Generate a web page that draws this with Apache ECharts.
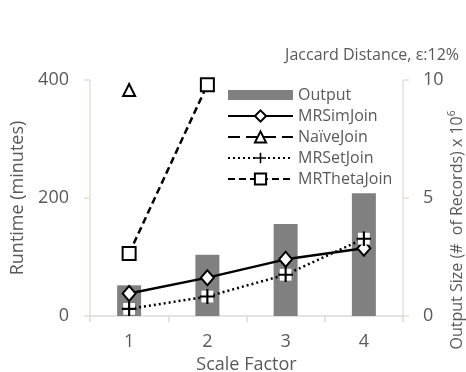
<!DOCTYPE html>
<html>
<head>
<meta charset="utf-8">
<script src="https://cdn.jsdelivr.net/npm/echarts@6/dist/echarts.min.js"></script>
<style>
  html, body { margin: 0; padding: 0; background: #fff; }
  #chart { width: 466px; height: 372px; }
</style>
</head>
<body>
<div id="chart"></div>
<script>
// Scale factors on the x axis
const scaleFactors = ['1', '2', '3', '4'];
// Output size (millions of records), right axis
const outputSize = [1.3, 2.6, 3.9, 5.2];
// Runtimes in minutes, left axis
const mrSimJoin = [38, 65, 96, 115];
const naiveJoin = [383, null, null, null];
const mrSetJoin = [12, 33, 70, 131];
const mrThetaJoin = [106, 392, null, null];

const runtimeTicks = { min: 0, max: 400, interval: 200 };
const outputTicks = { min: 0, max: 10, interval: 5 };

const FONT = 'Open Sans';
const TEXT = '#595959';
const AXIS_Y = '#e4e1d2';
const AXIS_X = '#d9d9d9';

const plusSvg = '<svg xmlns="http://www.w3.org/2000/svg" width="14" height="14" viewBox="0 0 14 14">' +
  '<rect x="1.5" y="1.5" width="11" height="11" fill="#ffffff"/>' +
  '<path d="M7 0V14M0 7H14" stroke="#000000" stroke-width="2"/></svg>';
const plusSymbol = 'image://data:image/svg+xml;utf8,' + encodeURIComponent(plusSvg);

const chart = echarts.init(document.getElementById('chart'), null, { renderer: 'canvas' });

const lineBase = {
  type: 'line',
  yAxisIndex: 0,
  symbolSize: 12,
  z: 3,
  itemStyle: { color: '#ffffff', borderColor: '#000000', borderWidth: 2 },
  emphasis: { disabled: true },
  animation: false
};

chart.setOption({
  animation: false,
  backgroundColor: '#ffffff',
  textStyle: { fontFamily: FONT },
  title: {
    text: 'Jaccard Distance, ε:12%',
    right: 2,
    top: 42,
    textStyle: { fontFamily: FONT, fontSize: 16, fontWeight: 'normal', color: TEXT }
  },
  grid: { left: 90, right: 63, top: 80, bottom: 56, containLabel: false, outerBoundsMode: 'none' },
  legend: {
    left: 227,
    top: 87,
    padding: 0,
    orient: 'vertical',
    itemWidth: 65,
    itemHeight: 14,
    itemGap: 5,
    textStyle: { fontFamily: FONT, fontSize: 16, color: TEXT },
    data: [
      { name: 'Output', icon: 'path://M0,0L0.01,0M0,2L65,2L65,12L0,12ZM0,14L0.01,14' },
      'MRSimJoin', 'NaïveJoin', 'MRSetJoin', 'MRThetaJoin'
    ]
  },
  // Right-hand axis title, reading bottom to top, with the 10^6 exponent as a superscript
  graphic: [
    {
      type: 'text',
      x: 456,
      y: 230,
      rotation: Math.PI / 2,
      style: {
        text: '{b|Output Size (#  of Records) x 10}{s|6}',
        align: 'center',
        verticalAlign: 'middle',
        rich: {
          b: { fontFamily: FONT, fontSize: 16, fill: TEXT, lineHeight: 18, verticalAlign: 'bottom' },
          s: { fontFamily: FONT, fontSize: 10, fill: TEXT, lineHeight: 18, verticalAlign: 'top' }
        }
      }
    }
  ],
  xAxis: {
    type: 'category',
    data: scaleFactors,
    boundaryGap: true,
    name: 'Scale Factor',
    nameLocation: 'middle',
    nameGap: 36,
    nameTextStyle: { fontFamily: FONT, fontSize: 18, color: TEXT },
    axisLine: { lineStyle: { color: AXIS_X, width: 1.5 } },
    axisTick: { show: true, length: 6, alignWithLabel: false, lineStyle: { color: AXIS_X, width: 1.5 } },
    axisLabel: { fontFamily: FONT, fontSize: 18, color: TEXT, margin: 17 },
    splitLine: { show: false }
  },
  yAxis: [
    {
      type: 'value',
      min: runtimeTicks.min, max: runtimeTicks.max, interval: runtimeTicks.interval,
      name: 'Runtime (minutes)',
      nameLocation: 'middle',
      nameGap: 60,
      nameTextStyle: { fontFamily: FONT, fontSize: 18, color: TEXT },
      axisLine: { show: true, lineStyle: { color: AXIS_Y, width: 1.5 } },
      axisTick: { show: true, length: 6, lineStyle: { color: AXIS_Y, width: 1.5 } },
      axisLabel: { fontFamily: FONT, fontSize: 18, color: TEXT, margin: 21 },
      splitLine: { show: false }
    },
    {
      type: 'value',
      position: 'right',
      min: outputTicks.min, max: outputTicks.max, interval: outputTicks.interval,
      axisLine: { show: true, lineStyle: { color: AXIS_Y, width: 1.5 } },
      axisTick: { show: true, length: 6, lineStyle: { color: AXIS_Y, width: 1.5 } },
      axisLabel: { fontFamily: FONT, fontSize: 18, color: TEXT, margin: 20 },
      splitLine: { show: false }
    }
  ],
  series: [
    {
      name: 'Output',
      type: 'bar',
      yAxisIndex: 1,
      data: outputSize,
      barWidth: 24,
      z: 1,
      itemStyle: { color: '#808080' },
      emphasis: { disabled: true }
    },
    Object.assign({}, lineBase, {
      name: 'MRSimJoin',
      data: mrSimJoin,
      symbol: 'diamond',
      symbolSize: [13, 15],
      lineStyle: { color: '#000000', width: 2.5, type: 'solid' }
    }),
    Object.assign({}, lineBase, {
      name: 'NaïveJoin',
      data: naiveJoin,
      symbol: 'triangle',
      symbolSize: 12,
      connectNulls: false,
      lineStyle: { color: '#000000', width: 2.5, type: [12, 6] }
    }),
    Object.assign({}, lineBase, {
      name: 'MRSetJoin',
      data: mrSetJoin,
      symbol: plusSymbol,
      symbolSize: 15,
      itemStyle: { color: '#000000' },
      lineStyle: { color: '#000000', width: 2.5, type: [2, 3] }
    }),
    Object.assign({}, lineBase, {
      name: 'MRThetaJoin',
      data: mrThetaJoin,
      symbol: 'rect',
      symbolSize: 13,
      lineStyle: { color: '#000000', width: 2.5, type: [7, 4] }
    })
  ]
});
</script>
</body>
</html>
